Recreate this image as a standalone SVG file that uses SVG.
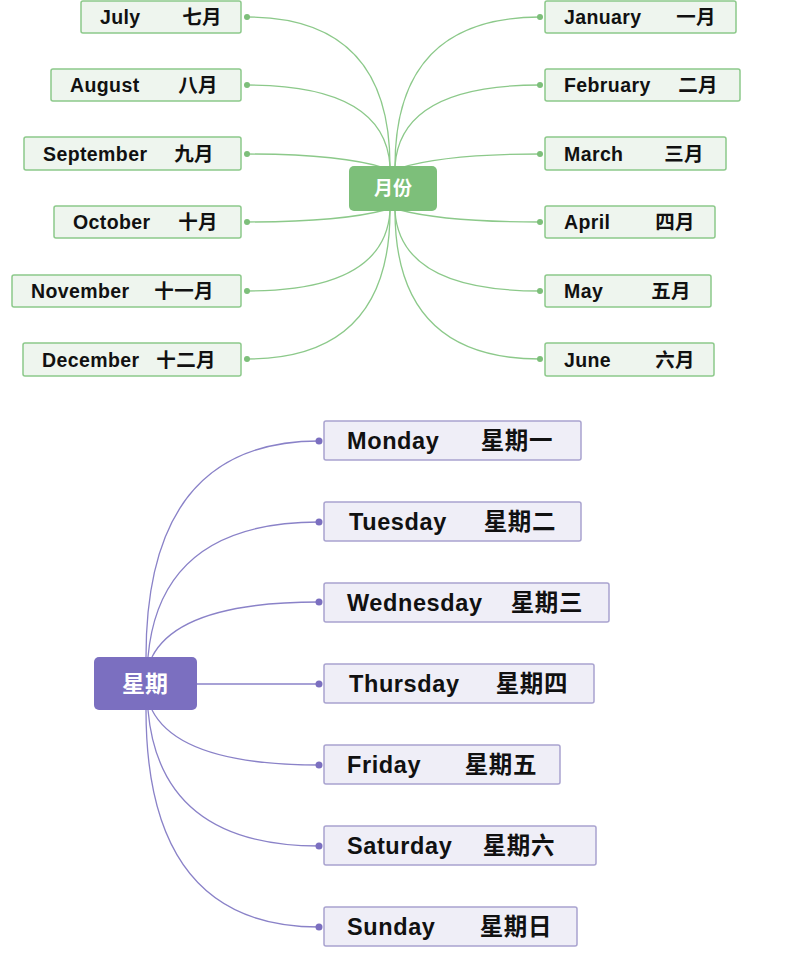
<svg xmlns="http://www.w3.org/2000/svg" width="800" height="963" viewBox="0 0 800 963">
<style>
.m{fill:#eef5ee;stroke:#8cc98a;stroke-width:1.5}
.d{fill:#efeef7;stroke:#a9a3cf;stroke-width:1.5}
.t{font-family:"Liberation Sans","Noto Sans CJK SC",sans-serif;font-weight:bold;fill:#111}
.mt{font-size:19.5px;letter-spacing:0.4px}
.dt{font-size:23.5px;letter-spacing:0.6px}
.gl{fill:none;stroke:#8cc98a;stroke-width:1.3}
.pl{fill:none;stroke:#8a82c8;stroke-width:1.3}
.gd{fill:#7dbf7a}
.pd{fill:#7b6fc0}
</style>
<rect width="800" height="963" fill="#fff"/>
<g id="connectors">
<path class="gl" d="M390 166 Q390 17 247 17"/>
<path class="gl" d="M390 166 Q385 85 247 85"/>
<path class="gl" d="M385 168 Q340 154 247 154"/>
<path class="gl" d="M385 210 Q340 222 247 222"/>
<path class="gl" d="M390 211 Q385 291 247 291"/>
<path class="gl" d="M390 211 Q390 359 247 359"/>
<path class="gl" d="M395 166 Q395 17 540 17"/>
<path class="gl" d="M395 166 Q400 85 540 85"/>
<path class="gl" d="M400 168 Q445 154 540 154"/>
<path class="gl" d="M400 210 Q445 222 540 222"/>
<path class="gl" d="M395 211 Q400 291 540 291"/>
<path class="gl" d="M395 211 Q395 359 540 359"/>
<g class="gd">
<circle cx="247" cy="17" r="3"/><circle cx="247" cy="85" r="3"/><circle cx="247" cy="154" r="3"/><circle cx="247" cy="222" r="3"/><circle cx="247" cy="291" r="3"/><circle cx="247" cy="359" r="3"/>
<circle cx="540" cy="17" r="3"/><circle cx="540" cy="85" r="3"/><circle cx="540" cy="154" r="3"/><circle cx="540" cy="222" r="3"/><circle cx="540" cy="291" r="3"/><circle cx="540" cy="359" r="3"/>
</g>
<path class="pl" d="M146 657 Q146 441 319 441"/>
<path class="pl" d="M148 657 Q160 522 319 522"/>
<path class="pl" d="M152 657 Q180 602 319 602"/>
<path class="pl" d="M197 684 L319 684"/>
<path class="pl" d="M152 710 Q180 765 319 765"/>
<path class="pl" d="M148 710 Q160 846 319 846"/>
<path class="pl" d="M146 710 Q146 927 319 927"/>
<g class="pd">
<circle cx="319" cy="441" r="3.5"/><circle cx="319" cy="522" r="3.5"/><circle cx="319" cy="602" r="3.5"/><circle cx="319" cy="684" r="3.5"/><circle cx="319" cy="765" r="3.5"/><circle cx="319" cy="846" r="3.5"/><circle cx="319" cy="927" r="3.5"/>
</g>
</g>
<g id="center-month"><rect x="349" y="166" width="88" height="45" rx="5" fill="#7dbf7a"/><text x="393" y="195" text-anchor="middle" class="t" style="font-size:19px;fill:#fff">月份</text></g>
<g id="july"><rect class="m" x="81" y="1" width="160" height="32" rx="2"/><text class="t mt" x="100" y="24">July</text><text class="t mt" x="222" y="24" text-anchor="end">七月</text></g>
<g id="august"><rect class="m" x="51" y="69" width="190" height="32" rx="2"/><text class="t mt" x="70" y="92">August</text><text class="t mt" x="218" y="92" text-anchor="end">八月</text></g>
<g id="september"><rect class="m" x="24" y="137" width="217" height="33" rx="2"/><text class="t mt" x="43" y="161">September</text><text class="t mt" x="214" y="161" text-anchor="end">九月</text></g>
<g id="october"><rect class="m" x="54" y="206" width="187" height="32" rx="2"/><text class="t mt" x="73" y="229">October</text><text class="t mt" x="218" y="229" text-anchor="end">十月</text></g>
<g id="november"><rect class="m" x="12" y="275" width="229" height="32" rx="2"/><text class="t mt" x="31" y="298">November</text><text class="t mt" x="214" y="298" text-anchor="end">十一月</text></g>
<g id="december"><rect class="m" x="23" y="343" width="218" height="33" rx="2"/><text class="t mt" x="42" y="367">December</text><text class="t mt" x="216" y="367" text-anchor="end">十二月</text></g>
<g id="january"><rect class="m" x="545" y="1" width="191" height="32" rx="2"/><text class="t mt" x="564" y="24">January</text><text class="t mt" x="716" y="24" text-anchor="end">一月</text></g>
<g id="february"><rect class="m" x="545" y="69" width="195" height="32" rx="2"/><text class="t mt" x="564" y="92">February</text><text class="t mt" x="718" y="92" text-anchor="end">二月</text></g>
<g id="march"><rect class="m" x="545" y="137" width="181" height="33" rx="2"/><text class="t mt" x="564" y="161">March</text><text class="t mt" x="704" y="161" text-anchor="end">三月</text></g>
<g id="april"><rect class="m" x="545" y="206" width="170" height="32" rx="2"/><text class="t mt" x="564" y="229">April</text><text class="t mt" x="695" y="229" text-anchor="end">四月</text></g>
<g id="may"><rect class="m" x="545" y="275" width="166" height="32" rx="2"/><text class="t mt" x="564" y="298">May</text><text class="t mt" x="691" y="298" text-anchor="end">五月</text></g>
<g id="june"><rect class="m" x="545" y="343" width="169" height="33" rx="2"/><text class="t mt" x="564" y="367">June</text><text class="t mt" x="695" y="367" text-anchor="end">六月</text></g>
<g id="center-week"><rect x="94" y="657" width="103" height="53" rx="5" fill="#7b6fc0"/><text x="145" y="692" text-anchor="middle" class="t" style="font-size:23px;fill:#fff">星期</text></g>
<g id="monday"><rect class="d" x="324" y="421" width="257" height="39" rx="2"/><text class="t dt" x="347" y="449">Monday</text><text class="t dt" x="553" y="449" text-anchor="end">星期一</text></g>
<g id="tuesday"><rect class="d" x="324" y="502" width="257" height="39" rx="2"/><text class="t dt" x="349" y="530">Tuesday</text><text class="t dt" x="556" y="530" text-anchor="end">星期二</text></g>
<g id="wednesday"><rect class="d" x="324" y="583" width="285" height="39" rx="2"/><text class="t dt" x="347" y="611">Wednesday</text><text class="t dt" x="583" y="611" text-anchor="end">星期三</text></g>
<g id="thursday"><rect class="d" x="324" y="664" width="270" height="39" rx="2"/><text class="t dt" x="349" y="692">Thursday</text><text class="t dt" x="568" y="692" text-anchor="end">星期四</text></g>
<g id="friday"><rect class="d" x="324" y="745" width="236" height="39" rx="2"/><text class="t dt" x="347" y="773">Friday</text><text class="t dt" x="537" y="773" text-anchor="end">星期五</text></g>
<g id="saturday"><rect class="d" x="324" y="826" width="272" height="39" rx="2"/><text class="t dt" x="347" y="854">Saturday</text><text class="t dt" x="555" y="854" text-anchor="end">星期六</text></g>
<g id="sunday"><rect class="d" x="324" y="907" width="253" height="39" rx="2"/><text class="t dt" x="347" y="935">Sunday</text><text class="t dt" x="552" y="935" text-anchor="end">星期日</text></g>
</svg>
